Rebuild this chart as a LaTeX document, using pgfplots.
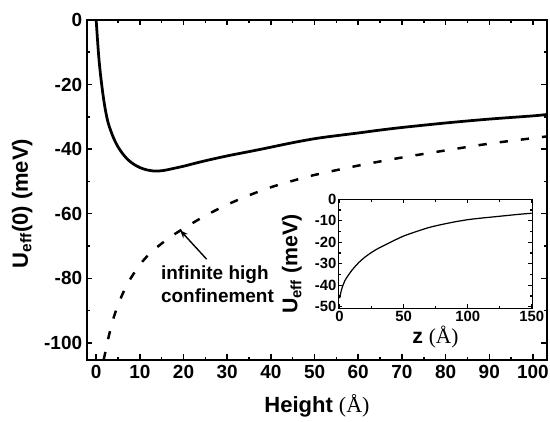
\documentclass[border=0pt]{standalone}
\usepackage{fontspec}
\setmainfont{Liberation Sans}
\newfontfamily\timesfont{Liberation Serif}
\usepackage{pgfplots}
\pgfplotsset{compat=1.18}
\usetikzlibrary{arrows.meta}

\pgfplotsset{
  frame/.style={
    scale only axis,
    tick align=inside,
    axis line style={line width=1.4pt},
    every tick/.style={black, line width=1.1pt},
    /pgf/number format/assume math mode=true,
    clip=true,
  },
}

\begin{document}
\begin{tikzpicture}
\useasboundingbox (-63.27pt,-45.09pt) rectangle (336.73pt,261.82pt);

% main panel: potential at the surface versus height
\begin{axis}[
  frame,
  at={(0pt,0pt)}, anchor=south west,
  width=334.5pt, height=247.3pt,
  xmin=-2.1, xmax=103.2, ymin=-105.3, ymax=0,
  xtick={0,10,...,100}, ytick={-100,-80,...,0},
  minor x tick num=1, minor y tick num=1,
  major tick length=4pt, minor tick length=2.4pt,
  tick label style={font=\fontsize{13.8}{13.8}\selectfont\bfseries},
  label style={font=\fontsize{16}{16}\selectfont\bfseries},
  xlabel={Height {\timesfont\mdseries(Å)}},
  ylabel={U\textsubscript{eff}(0) (meV)},
  xlabel style={at={(axis description cs:0.5,-0.135)}, anchor=center},
  ylabel style={at={(axis description cs:-0.141,0.46)}, anchor=center},
]
\addplot[black, line width=2pt, smooth] coordinates {
  (0,0) (0.3,-6) (0.6,-11.5) (1,-17) (1.5,-22.5) (2,-27) (2.5,-30.5)
  (3,-33) (4,-36.6) (5,-39.3) (6,-41.3) (7,-42.9) (8,-44.1) (9,-45.0)
  (10,-45.7) (11.5,-46.4) (13.5,-46.8) (15.5,-46.6) (17.3,-46.1) (20,-45.3)
  (22,-44.6) (25,-43.6) (30,-42.1) (37.5,-40.1) (45,-38.0) (51.3,-36.5)
  (60,-35.0) (65,-34.1) (70,-33.3) (80,-31.9) (90,-30.7) (100,-29.7) (103,-29.3)
};
\addplot[black, line width=1.8pt, smooth, dash pattern=on 6pt off 9.5pt] coordinates {
  (1.7,-105.3) (2,-103.5) (3,-97.3) (4,-92.2) (5,-88.3) (6,-85.0) (7,-82.2)
  (8,-79.8) (10,-75.8) (12,-72.7) (14,-70.3) (17,-67.2) (20,-64.6) (25,-60.6)
  (30,-57.2) (35,-54.3) (40,-51.8) (45,-49.8) (50,-48.0) (60,-45.1) (70,-42.6)
  (80,-40.4) (90,-38.3) (100,-36.6) (103,-36.1)
};
\draw[black, line width=1pt, -{Stealth[length=6pt,width=4.5pt]}]
  (axis cs:25.3,-74.1) -- (axis cs:19.2,-65.1);
\node[anchor=north west, align=left, inner sep=0pt,
      font=\fontsize{13.8}{16.7}\selectfont\bfseries]
  at (axis cs:14.8,-76) {infinite high\\confinement};
\end{axis}

% inset: potential profile along z
\begin{axis}[
  frame,
  at={(182.8pt,37.6pt)}, anchor=south west,
  width=141.1pt, height=79.3pt,
  axis line style={line width=1.1pt},
  every tick/.style={black, line width=0.9pt},
  xmin=-1, xmax=150.5, ymin=-50.7, ymax=0,
  xtick={0,50,100,150}, ytick={-50,-40,...,0},
  minor x tick num=1, minor y tick num=1,
  major tick length=3pt, minor tick length=1.8pt,
  tick label style={font=\fontsize{10.8}{10.8}\selectfont\bfseries},
  yticklabel style={inner sep=1.2pt},
  xticklabel style={inner sep=1.5pt},
  label style={font=\fontsize{15.5}{15.5}\selectfont\bfseries},
  xlabel={z {\timesfont\mdseries(Å)}},
  ylabel={U\textsubscript{eff} (meV)},
  xlabel style={at={(axis description cs:0.5,-0.268)}, anchor=center},
  ylabel style={at={(axis description cs:-0.239,0.406)}, anchor=center},
]
\addplot[black, line width=0.9pt, smooth] coordinates {
  (0,-46) (1,-43.2) (2,-41) (4,-38) (6,-36) (8,-34.3) (10,-32.7) (15,-29.4)
  (20,-26.8) (25,-24.7) (30,-22.9) (40,-19.9) (50,-17.1) (60,-15.0) (70,-13.1)
  (80,-11.7) (90,-10.5) (100,-9.5) (110,-8.8) (120,-8.2) (130,-7.6) (140,-7.0)
  (150,-6.5)
};
\end{axis}
\end{tikzpicture}
\end{document}
